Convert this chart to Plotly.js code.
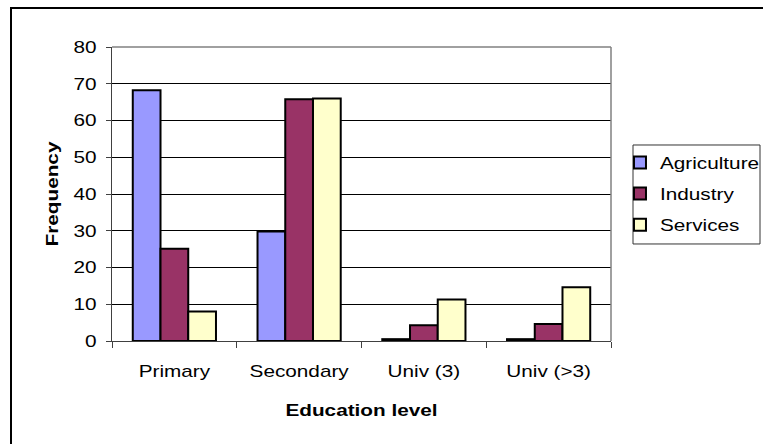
<!DOCTYPE html>
<html>
<head>
<meta charset="utf-8">
<script src="https://cdn.plot.ly/plotly-3.0.1.min.js"></script>
<style>
html,body{margin:0;padding:0;background:#fff;overflow:hidden;width:763px;height:444px;}
#wrap{position:relative;width:763px;height:444px;overflow:hidden;}
#chart{width:763px;height:444px;}
#frame{position:absolute;left:10px;top:7px;width:760px;height:450px;border-left:2px solid #000;border-top:2px solid #000;pointer-events:none;z-index:1000;}
</style>
</head>
<body>
<div id="wrap"><div id="chart"></div><div id="frame"></div></div>
<script>
const categories = ["Primary", "Secondary", "Univ (3)", "Univ (>3)"];
const agriculture = [68.2, 29.8, 0.5, 0.5];
const industry = [25.1, 65.8, 4.3, 4.6];
const services = [8.0, 66.0, 11.3, 14.6];
const seriesNames = ["Agriculture", "Industry", "Services"];
const seriesColors = ["#9999FF", "#993366", "#FFFFCC"];
const yTicks = [0, 10, 20, 30, 40, 50, 60, 70, 80];

const FONT = "Liberation Sans, Arial, sans-serif";
const FS = 17;
const STRETCH = 1.22;
const allSeries = [agriculture, industry, services];
const traces = allSeries.map((vals, i) => ({
  type: "bar",
  name: seriesNames[i],
  x: categories,
  y: vals,
  legendgroup: "g" + i,
  marker: {color: seriesColors[i], line: {color: "#000000", width: 2}},
  hoverinfo: "none"
}));

const layout = {
  width: 763, height: 444,
  margin: {l: 112, r: 152, t: 47, b: 103, pad: 0},
  paper_bgcolor: "#ffffff", plot_bgcolor: "#ffffff",
  font: {family: FONT, size: FS, color: "#000000"},
  barmode: "group", bargap: 0.333, bargroupgap: 0,
  showlegend: true,
  legend: {
    x: 1.018, xanchor: "left", y: 0.667, yanchor: "top",
    borderwidth: 0, bgcolor: "rgba(0,0,0,0)",
    font: {family: FONT, size: FS, color: "#000000"},
    tracegroupgap: 6, itemwidth: 30
  },
  xaxis: {
    type: "category",
    tickson: "boundaries", ticks: "outside", ticklen: 6, tickcolor: "#404040",
    showline: true, linecolor: "#404040", linewidth: 1,
    showgrid: false, zeroline: false,
    ticklabelstandoff: 15,
    tickfont: {family: FONT, size: FS, color: "#000000"},
    title: {text: "Education level", font: {family: FONT, size: FS, color: "#000000", weight: "bold"}, standoff: 23}
  },
  yaxis: {
    range: [0, 80], tickvals: yTicks, ticktext: yTicks.map(String),
    ticks: "outside", ticklen: 5, tickcolor: "#404040",
    showline: true, linecolor: "#404040", linewidth: 1,
    showgrid: true, gridcolor: "#000000", gridwidth: 1,
    zeroline: false,
    ticklabelstandoff: 6,
    tickfont: {family: FONT, size: FS, color: "#000000"},
    title: {text: "Frequency", font: {family: FONT, size: FS, color: "#000000", weight: "bold"}, standoff: 14}
  },
  shapes: [
    {type: "line", xref: "paper", yref: "paper", x0: 0, x1: 1, y0: 1, y1: 1, line: {color: "#808080", width: 1.5}, layer: "above"},
    {type: "line", xref: "paper", yref: "paper", x0: 1, x1: 1, y0: 0, y1: 1, line: {color: "#808080", width: 1.5}, layer: "above"},
    {type: "rect", xref: "paper", yref: "paper", x0: 1.0441, x1: 1.2986, y0: 0.33, y1: 0.6667, line: {color: "#333333", width: 1}, layer: "below"}
  ]
};

Plotly.newPlot("chart", traces, layout, {staticPlot: true, displayModeBar: false}).then(gd => {
  gd.querySelectorAll(".legend [clip-path]").forEach(el => el.removeAttribute("clip-path"));
  gd.querySelectorAll(".xtick text, .ytick text, text.legendtext, text.xtitle, text.ytitle").forEach(t => {
    const L = t.getComputedTextLength();
    if (L > 0) {
      t.setAttribute("textLength", (L * STRETCH).toFixed(1));
      t.setAttribute("lengthAdjust", "spacingAndGlyphs");
    }
  });
});
</script>
</body>
</html>
